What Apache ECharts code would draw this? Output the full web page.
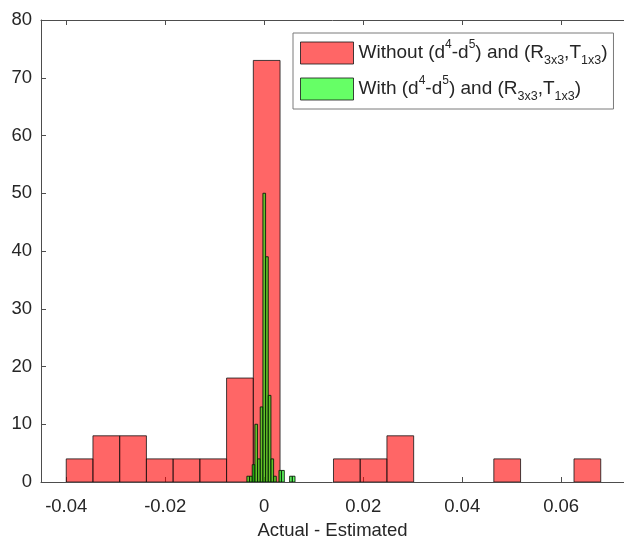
<!DOCTYPE html>
<html>
<head>
<meta charset="utf-8">
<script src="https://cdn.jsdelivr.net/npm/echarts@6/dist/echarts.min.js"></script>
<style>
  html, body { margin: 0; padding: 0; background: #fff; }
  #chart { width: 624px; height: 543px; }
</style>
</head>
<body>
<div id="chart"></div>
<script>
// Histogram bin edges and counts for the two estimation error sets
const redEdges = [-0.04, -0.0346, -0.0292, -0.0238, -0.0184, -0.013, -0.0076, -0.0022, 0.0032, 0.0086,
                  0.014, 0.0194, 0.0248, 0.0302, 0.0356, 0.041, 0.0464, 0.0518, 0.0572, 0.0626, 0.068];
const redCounts = [4, 8, 8, 4, 4, 4, 18, 73, 0, 0, 4, 4, 8, 0, 0, 0, 4, 0, 0, 4];

const greenEdges = [-0.0035, -0.00296, -0.00242, -0.00188, -0.00134, -0.0008, -0.00026, 0.00028, 0.00082,
                    0.00136, 0.0019, 0.00244, 0.00298, 0.00352, 0.00406, 0.0046, 0.00514, 0.00568, 0.00622];
const greenCounts = [1, 1, 3, 10, 4, 13, 50, 39, 15, 4, 1, 0, 2, 2, 0, 0, 1, 1];

const xTicks = [-0.04, -0.02, 0, 0.02, 0.04, 0.06];
const yTicks = [0, 10, 20, 30, 40, 50, 60, 70, 80];

const nameRed = 'Without';
const nameGreen = 'With';

function bins(edges, counts) {
  const out = [];
  for (let i = 0; i < counts.length; i++) {
    if (counts[i] > 0) out.push([edges[i], edges[i + 1], counts[i]]);
  }
  return out;
}

function histRenderer(fill, stroke) {
  return function (params, api) {
    const topLeft = api.coord([api.value(0), api.value(2)]);
    const bottomRight = api.coord([api.value(1), 0]);
    return {
      type: 'rect',
      shape: {
        x: topLeft[0],
        y: topLeft[1],
        width: bottomRight[0] - topLeft[0],
        height: bottomRight[1] - topLeft[1]
      },
      style: { fill: fill, stroke: stroke, lineWidth: 1 }
    };
  };
}

const redFill = 'rgba(255,0,0,0.6)';
const greenFill = 'rgba(0,255,0,0.6)';
const edgeCol = 'rgba(20,20,20,0.8)';
const greenEdge = 'rgba(10,30,10,0.9)';
const axisCol = '#4d4d4d';
const textCol = '#262626';

const rich = {
  n: { fontSize: 19, fontFamily: 'Liberation Sans', color: textCol, verticalAlign: 'middle', lineHeight: 28 },
  sup: { fontSize: 12, fontFamily: 'Liberation Sans', color: textCol, verticalAlign: 'top', lineHeight: 14 },
  sub: { fontSize: 12.5, fontFamily: 'Liberation Sans', color: textCol, verticalAlign: 'bottom', lineHeight: 12 }
};

const legendLabels = {};
legendLabels[nameRed] = '{n|Without (d}{sup|4}{n|-d}{sup|5}{n|) and (R}{sub|3x3}{n|,T}{sub|1x3}{n|)}';
legendLabels[nameGreen] = '{n|With (d}{sup|4}{n|-d}{sup|5}{n|) and (R}{sub|3x3}{n|,T}{sub|1x3}{n|)}';

const chart = echarts.init(document.getElementById('chart'), null, { renderer: 'canvas' });

const xAxisBase = {
  type: 'value',
  min: -0.0451,
  max: 0.0727,
  splitLine: { show: false },
  axisLine: { show: true, onZero: false, lineStyle: { color: axisCol, width: 1 } }
};

chart.setOption({
  animation: false,
  backgroundColor: '#fff',
  grid: { left: 41, top: 20, right: 0, bottom: 61, containLabel: false, outerBoundsMode: 'none' },
  legend: {
    orient: 'vertical',
    left: 293,
    top: 33,
    padding: [6, 6, 6, 7],
    itemWidth: 53,
    itemHeight: 22,
    itemGap: 8,
    backgroundColor: '#fff',
    borderColor: '#7a7a7a',
    borderWidth: 1,
    borderRadius: 0,
    selectedMode: false,
    data: [
      { name: nameRed, icon: 'rect', itemStyle: { color: redFill, borderColor: edgeCol, borderWidth: 1 } },
      { name: nameGreen, icon: 'rect', itemStyle: { color: greenFill, borderColor: edgeCol, borderWidth: 1 } }
    ],
    formatter: function (name) { return legendLabels[name]; },
    textStyle: { rich: rich }
  },
  xAxis: [
    Object.assign({}, xAxisBase, {
      position: 'bottom',
      name: 'Actual - Estimated',
      nameLocation: 'middle',
      nameGap: 39,
      nameTextStyle: { fontSize: 18.5, fontFamily: 'Liberation Sans', color: textCol },
      axisTick: { show: true, inside: true, length: 5, customValues: xTicks, lineStyle: { color: axisCol } },
      axisLabel: {
        show: true, margin: 15, fontSize: 18.5, fontFamily: 'Liberation Sans', color: textCol,
        customValues: xTicks,
        formatter: function (v) { return String(+v.toFixed(4)); }
      }
    }),
    Object.assign({}, xAxisBase, {
      position: 'top',
      axisTick: { show: true, inside: true, length: 5, customValues: xTicks, lineStyle: { color: axisCol } },
      axisLabel: { show: false }
    })
  ],
  yAxis: [{
    type: 'value',
    min: 0,
    max: 80,
    splitLine: { show: false },
    axisLine: { show: true, onZero: false, lineStyle: { color: axisCol, width: 1 } },
    axisTick: { show: true, inside: true, length: 5, customValues: yTicks, lineStyle: { color: axisCol } },
    axisLabel: { margin: 9, fontSize: 18.5, fontFamily: 'Liberation Sans', color: textCol, customValues: yTicks }
  }],
  series: [
    {
      name: nameRed,
      type: 'custom',
      xAxisIndex: 0,
      yAxisIndex: 0,
      clip: true,
      itemStyle: { color: redFill, borderColor: edgeCol },
      encode: { x: [0, 1], y: 2 },
      renderItem: histRenderer(redFill, edgeCol),
      data: bins(redEdges, redCounts),
      z: 2
    },
    {
      name: nameGreen,
      type: 'custom',
      xAxisIndex: 0,
      yAxisIndex: 0,
      clip: true,
      itemStyle: { color: greenFill, borderColor: greenEdge },
      encode: { x: [0, 1], y: 2 },
      renderItem: histRenderer(greenFill, greenEdge),
      data: bins(greenEdges, greenCounts),
      z: 3
    }
  ]
});
</script>
</body>
</html>
